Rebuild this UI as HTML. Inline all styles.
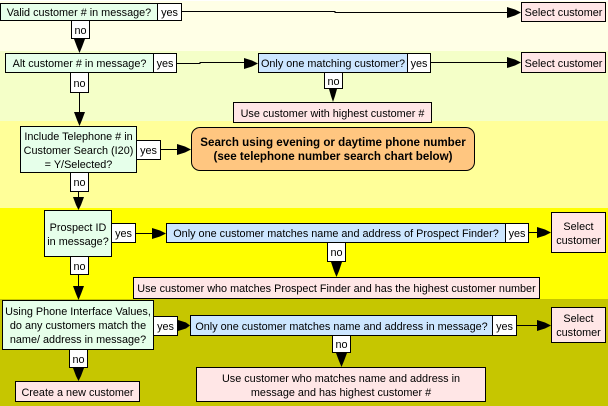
<!DOCTYPE html>
<html><head><meta charset="utf-8"><style>
html,body{margin:0;padding:0;width:608px;height:406px;overflow:hidden;background:#fff}
#s{position:relative;width:608px;height:406px;overflow:hidden;font:10.85px/14px "Liberation Sans",sans-serif;color:#000}
.b{position:absolute}
.n{position:absolute;box-sizing:border-box;border:1px solid #000;padding-top:2px;display:flex;align-items:center;justify-content:center;text-align:center;white-space:nowrap}
.g{background:#e6ffea}.p{background:#ffe6e6}.u{background:#cce6ff}.w{background:#fff}
svg{position:absolute;left:0;top:0}
</style></head><body><div id="s">
<div class="b" style="left:0;top:1px;width:608px;height:50px;background:#ffffe6"></div>
<div class="b" style="left:0;top:51px;width:608px;height:70px;background:#f4ffc8"></div>
<div class="b" style="left:0;top:121px;width:608px;height:87px;background:#ffff99"></div>
<div class="b" style="left:0;top:208px;width:608px;height:91px;background:#ffff00"></div>
<div class="b" style="left:0;top:299px;width:608px;height:107px;background:#c6c600"></div>
<svg width="608" height="406" viewBox="0 0 608 406">
<g stroke="#000" stroke-width="1" shape-rendering="crispEdges" fill="none">
<path d="M182 11.5H335V12.5H508"/>
<path d="M176 63.5H200V62.5H245"/>
<path d="M431 62.5H508"/>
<path d="M79.5 93V113"/>
<path d="M161 149.5H178"/>
<path d="M78.5 192V198"/>
<path d="M136 233.5H153"/>
<path d="M529 232.5H538"/>
<path d="M78.5 275V287"/>
<path d="M517 325.5H538"/>
</g>
<g fill="#000">
<path d="M507 7L515 9.5L521 12.5L515 15.5L507 18Z"/>
<path d="M244 58L252 60.5L258 63.5L252 66.5L244 69Z"/>
<path d="M507 57L515 59.5L521 62.5L515 65.5L507 68Z"/>
<path d="M177 144L185 146.5L191 149.5L185 152.5L177 155Z"/>
<path d="M152 228L160 230.5L166 233.5L160 236.5L152 239Z"/>
<path d="M537 227L545 229.5L551 232.5L545 235.5L537 238Z"/>
<path d="M178 320L186 322.5L190 325.5L186 328.5L178 331Z"/>
<path d="M537 320L545 322.5L551 325.5L545 328.5L537 331Z"/>
<path d="M74 39H85L82 47L79.5 53L77 47Z"/>
<path d="M74 112H85L82 120L79.5 126L77 120Z"/>
<path d="M73 197H84L81 205L78.5 210L76 205Z"/>
<path d="M329 89H337L335 96L333 102L331 96Z"/>
<path d="M331 262H342L339 271L336.5 277L334 271Z"/>
<path d="M73 286H84L81 294L78.5 300L76 294Z"/>
<path d="M336 353H347L344 361L341.5 367L339 361Z"/>
<path d="M73 368H84L81 376L78.5 381L76 376Z"/>
</g>
</svg>
<div class="n g" style="left:0;top:3px;width:158px;height:18px">Valid customer # in message?</div>
<div class="n w" style="left:157px;top:3px;width:25px;height:18px">yes</div>
<div class="n w" style="left:71px;top:20px;width:19px;height:19px">no</div>
<div class="n p" style="left:521px;top:2px;width:85px;height:20px">Select customer</div>

<div class="n g" style="left:5px;top:53px;width:149px;height:20px">Alt customer # in message?</div>
<div class="n w" style="left:153px;top:53px;width:24px;height:20px">yes</div>
<div class="n w" style="left:70px;top:72px;width:19px;height:21px">no</div>
<div class="n u" style="left:258px;top:53px;width:150px;height:20px">Only one matching customer?</div>
<div class="n w" style="left:407px;top:53px;width:24px;height:20px">yes</div>
<div class="n p" style="left:521px;top:52px;width:85px;height:21px">Select customer</div>
<div class="n w" style="left:324px;top:72px;width:19px;height:17px">no</div>
<div class="n p" style="left:233px;top:102px;width:199px;height:21px">Use customer with highest customer #</div>

<div class="n g" style="left:20px;top:126px;width:117px;height:47px">Include Telephone # in<br>Customer Search (I20)<br>= Y/Selected?</div>
<div class="n w" style="left:136px;top:140px;width:25px;height:20px">yes</div>
<div class="n w" style="left:70px;top:172px;width:19px;height:20px">no</div>
<div class="n" style="left:191px;top:127px;width:284px;height:44px;background:#ffc680;border-radius:9px;font-weight:bold;font-size:11.6px">Search using evening or daytime phone number<br>(see telephone number search chart below)</div>

<div class="n g" style="left:44px;top:210px;width:68px;height:47px">Prospect ID<br>in message?</div>
<div class="n w" style="left:111px;top:223px;width:25px;height:20px">yes</div>
<div class="n w" style="left:70px;top:256px;width:19px;height:19px">no</div>
<div class="n u" style="left:166px;top:223px;width:340px;height:20px">Only one customer matches name and address of Prospect Finder?</div>
<div class="n w" style="left:505px;top:223px;width:24px;height:20px">yes</div>
<div class="n p" style="left:551px;top:212px;width:55px;height:41px">Select<br>customer</div>
<div class="n w" style="left:327px;top:242px;width:19px;height:20px">no</div>
<div class="n p" style="left:133px;top:277px;width:407px;height:22px">Use customer who matches Prospect Finder and has the highest customer number</div>

<div class="n g" style="left:2px;top:300px;width:152px;height:50px">Using Phone Interface Values,<br>do any customers match the<br>name/ address in message?</div>
<div class="n w" style="left:153px;top:316px;width:25px;height:20px">yes</div>
<div class="n w" style="left:69px;top:349px;width:19px;height:19px">no</div>
<div class="n p" style="left:15px;top:381px;width:125px;height:21px">Create a new customer</div>
<div class="n u" style="left:190px;top:315px;width:303px;height:21px">Only one customer matches name and address in message?</div>
<div class="n w" style="left:492px;top:315px;width:25px;height:21px">yes</div>
<div class="n p" style="left:551px;top:307px;width:55px;height:36px">Select<br>customer</div>
<div class="n w" style="left:332px;top:335px;width:19px;height:18px">no</div>
<div class="n p" style="left:196px;top:367px;width:290px;height:35px">Use customer who matches name and address in<br>message and has highest customer #</div>
</div></body></html>
